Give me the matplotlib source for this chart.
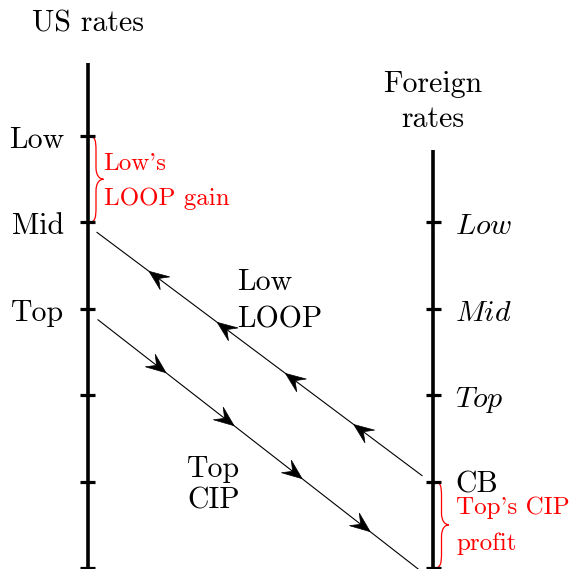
import numpy as np
import matplotlib
matplotlib.use("Agg")
import matplotlib.pyplot as plt
from matplotlib.path import Path
from matplotlib.patches import PathPatch, Polygon

plt.rcParams['mathtext.fontset'] = 'cm'
plt.rcParams['axes.formatter.use_mathtext'] = True

# ---------------- data ----------------
us_title = "US rates"
foreign_title = "Foreign\nrates"
us_levels = [1, 2, 3, 4, 5, 6]
us_labels = ["Low", "Mid", "Top", "", "", ""]
foreign_levels = [2, 3, 4, 5, 6]
foreign_labels = ["Low", "Mid", "Top", "CB", ""]
foreign_italic = [True, True, True, False, False]

# trades: (from side, from level, to side, to level)
loop_trade = ("F", 5, "US", 2)   # Low's LOOP: foreign CB -> US Mid
cip_trade = ("US", 3, "F", 6)    # Top's CIP: US Top -> foreign bottom
arrow_fracs = [0.21, 0.42, 0.63, 0.84]

brace_us = (1, 2, "Low's\nLOOP gain")
brace_f = (5, 6, "Top's CIP\nprofit")
loop_label = "Low\nLOOP"
cip_label = "Top\nCIP"

# ---------------- layout ----------------
W, H = 573, 569
fig = plt.figure(figsize=(W / 100, H / 100), dpi=100)
ax = fig.add_axes([0, 0, 1, 1])
ax.set_xlim(0, W)
ax.set_ylim(H, 0)
ax.set_aspect('auto')
ax.axis('off')

X_US, X_F = 87.5, 433.0
Y0, STEP = 136.0, 86.4
EXT = 0.84  # axis extends above first tick (levels)


def ly(level):
    return Y0 + (level - 1) * STEP


BIG = 21.5
SMALL = 18.0
FONT = ['cmr10', 'DejaVu Serif']
RED = '#ff0000'

# axes
ax.plot([X_US, X_US], [ly(us_levels[0] - EXT), ly(us_levels[-1]) + 2], color='black', lw=2.6,
        solid_capstyle='butt')
ax.plot([X_F, X_F], [ly(foreign_levels[0] - EXT), ly(foreign_levels[-1]) + 2], color='black', lw=2.6,
        solid_capstyle='butt')

# ticks and labels
for lev, lab in zip(us_levels, us_labels):
    y = ly(lev)
    ax.plot([X_US - 7.5, X_US + 7.5], [y, y], color='black', lw=2.3, solid_capstyle='butt')
    if lab:
        ax.text(X_US - 23.5, y + 12, lab, ha='right', va='baseline', fontsize=BIG, family=FONT)

for lev, lab, it in zip(foreign_levels, foreign_labels, foreign_italic):
    y = ly(lev)
    ax.plot([X_F - 7.5, X_F + 7.5], [y, y], color='black', lw=2.3, solid_capstyle='butt')
    if lab:
        if it:
            ax.text(X_F + 22, y + 12, r'$%s$' % lab, ha='left', va='baseline', fontsize=BIG)
        else:
            ax.text(X_F + 22, y + 11, lab, ha='left', va='baseline', fontsize=BIG, family=FONT)

# titles
ax.text(X_US, 31, us_title, ha='center', va='baseline', fontsize=BIG, family=FONT)
for i, line in enumerate(foreign_title.split("\n")):
    ax.text(X_F, 92 + 35 * i, line, ha='center', va='baseline', fontsize=BIG, family=FONT)


# trade lines
def side_x(side):
    return X_US if side == "US" else X_F


def trade_line(trade, start_off, end_off):
    s_side, s_lev, e_side, e_lev = trade
    p0 = np.array([side_x(s_side) + start_off[0], ly(s_lev) + start_off[1]])
    p1 = np.array([side_x(e_side) + end_off[0], ly(e_lev) + end_off[1]])
    ax.plot([p0[0], p1[0]], [p0[1], p1[1]], color='black', lw=0.8)
    d = p1 - p0
    length = np.hypot(*d)
    u = d / length
    n = np.array([-u[1], u[0]])
    L, hw = 20.0, 8.0
    for f in arrow_fracs:
        tip = p0 + u * (f * length)
        pts = [tip,
               tip - L * u + hw * n,
               tip - 0.6 * L * u,
               tip - L * u - hw * n]
        ax.add_patch(Polygon(pts, closed=True, facecolor='black', edgecolor='black', lw=0.5))


trade_line(loop_trade, (-11, -6), (9.5, 10))
trade_line(cip_trade, (10.5, 11), (-11, 4))


# braces
def brace(x0, yt, yb, amp):
    h = amp / 2.0
    ym = (yt + yb) / 2.0
    verts = [
        (x0, yt),
        (x0 + h * 0.9, yt), (x0 + h, yt + h * 0.6), (x0 + h, yt + h * 2.0),
        (x0 + h, ym - h * 1.6),
        (x0 + h, ym - h * 0.45), (x0 + h * 1.5, ym), (x0 + 2 * h, ym),
        (x0 + h * 1.5, ym), (x0 + h, ym + h * 0.45), (x0 + h, ym + h * 1.6),
        (x0 + h, yb - h * 2.0),
        (x0 + h, yb - h * 0.6), (x0 + h * 0.9, yb), (x0, yb),
    ]
    codes = [Path.MOVETO,
             Path.CURVE4, Path.CURVE4, Path.CURVE4,
             Path.LINETO,
             Path.CURVE4, Path.CURVE4, Path.CURVE4,
             Path.CURVE4, Path.CURVE4, Path.CURVE4,
             Path.LINETO,
             Path.CURVE4, Path.CURVE4, Path.CURVE4]
    ax.add_patch(PathPatch(Path(verts, codes), facecolor='none', edgecolor=RED, lw=0.9))


b_lo, b_hi, b_txt = brace_us
brace(X_US + 1, ly(b_lo), ly(b_hi), 15)
for i, line in enumerate(b_txt.split("\n")):
    ax.text(X_US + 16, ly(b_lo) + 34 + 35 * i, line, ha='left', va='baseline', fontsize=SMALL,
            family=FONT, color=RED)

b_lo, b_hi, b_txt = brace_f
brace(X_F + 1, ly(b_lo), ly(b_hi), 15)
for i, line in enumerate(b_txt.split("\n")):
    ax.text(X_F + 23, ly(b_lo) + 32 + 36 * i, line, ha='left', va='baseline', fontsize=SMALL,
            family=FONT, color=RED)

# trade labels
for i, line in enumerate(loop_label.split("\n")):
    ax.text(237, 290 + 37 * i, line, ha='left', va='baseline', fontsize=BIG, family=FONT)
for i, line in enumerate(cip_label.split("\n")):
    ax.text(187, 477 + 31 * i, line, ha='left', va='baseline', fontsize=BIG, family=FONT)

fig.savefig("out.png", dpi=100)
